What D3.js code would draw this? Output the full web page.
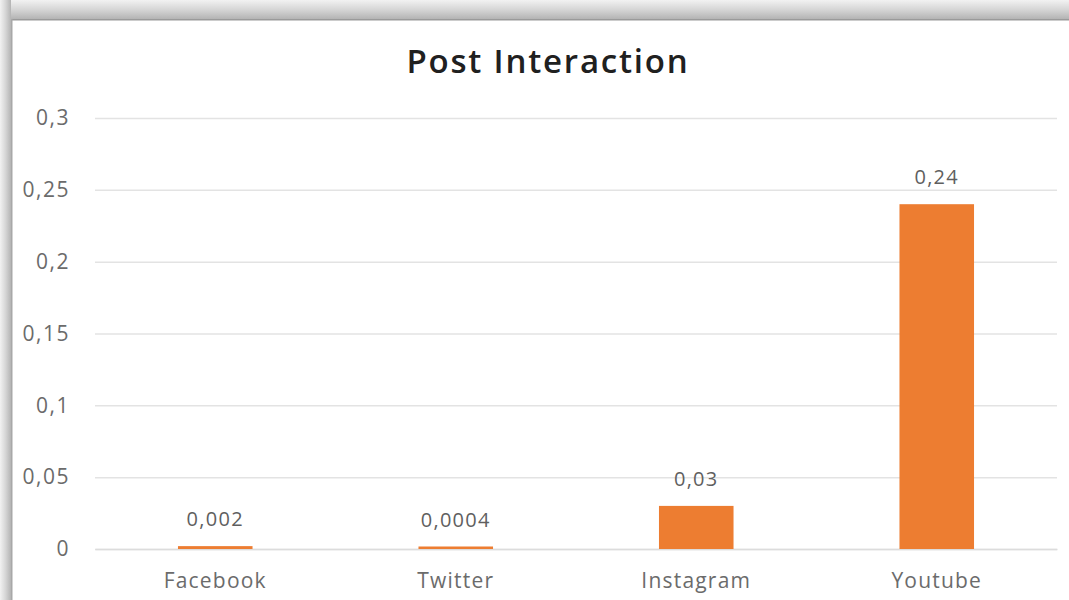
<!DOCTYPE html>
<html><head><meta charset="utf-8">
<script src="https://cdn.jsdelivr.net/npm/d3@7"></script>
<style>
html,body{margin:0;padding:0;background:#fff;}
svg{display:block;}
text{font-family:"Open Sans","Noto Sans",sans-serif;}
</style></head>
<body>
<svg id="c" width="1069" height="600"></svg>
<script>
const categories = ["Facebook","Twitter","Instagram","Youtube"];
const values = [0.002,0.0004,0.03,0.24];
const valueLabels = ["0,002","0,0004","0,03","0,24"];
const yTicks = [0,0.05,0.1,0.15,0.2,0.25,0.3];
const yTickLabels = ["0","0,05","0,1","0,15","0,2","0,25","0,3"];
const title = "Post Interaction";

const svg = d3.select("#c");
const W = 1069, H = 600;

// frame (shadowed border at top and left)
const defs = svg.append("defs");
const gT = defs.append("linearGradient").attr("id","gt").attr("x1",0).attr("y1",0).attr("x2",0).attr("y2",1);
gT.append("stop").attr("offset","0").attr("stop-color","#f2f2f2");
gT.append("stop").attr("offset","0.5").attr("stop-color","#d6d6d6");
gT.append("stop").attr("offset","1").attr("stop-color","#b4b4b4");
const gL = defs.append("linearGradient").attr("id","gl").attr("x1",0).attr("y1",0).attr("x2",1).attr("y2",0);
gL.append("stop").attr("offset","0").attr("stop-color","#f2f2f2");
gL.append("stop").attr("offset","0.5").attr("stop-color","#d6d6d6");
gL.append("stop").attr("offset","1").attr("stop-color","#b4b4b4");
svg.append("rect").attr("x",0).attr("y",0).attr("width",W).attr("height",19).attr("fill","url(#gt)");
svg.append("rect").attr("x",0).attr("y",0).attr("width",11).attr("height",H).attr("fill","url(#gl)");
svg.append("rect").attr("x",11).attr("y",19).attr("width",W-11).attr("height",1.5).attr("fill","#9a9a9a");
svg.append("rect").attr("x",11).attr("y",19).attr("width",1.5).attr("height",H-19).attr("fill","#a8a8a8");

const m = {left:95, right:1057, top:118, bottom:549};
const x = d3.scaleBand().domain(categories).range([m.left,m.right]).paddingInner(0.69).paddingOuter(0.345);
const y = d3.scaleLinear().domain([0,0.3]).range([m.bottom,m.top]);

// gridlines
const yAxis = d3.axisLeft(y).tickValues(yTicks).tickSize(-(m.right-m.left)).tickPadding(25)
  .tickFormat((d,i)=>yTickLabels[i]);
const ga = svg.append("g").attr("transform",`translate(${m.left},0)`).call(yAxis);
ga.select(".domain").remove();
ga.selectAll(".tick line").attr("stroke","#e3e3e3").attr("stroke-width",1.5);
ga.selectAll(".tick text").attr("fill","#6b6b6b").attr("font-size",21).attr("letter-spacing",1.5);

// x axis labels
const xAxis = d3.axisBottom(x).tickSize(0).tickPadding(24);
const gx = svg.append("g").attr("transform",`translate(0,${m.bottom})`).call(xAxis);
gx.select(".domain").attr("stroke","#dcdcdc").attr("stroke-width",1.5);
gx.selectAll(".tick text").attr("fill","#6b6b6b").attr("font-size",21).attr("letter-spacing",1.2);

// bars
svg.selectAll(".bar").data(values).enter().append("rect")
  .attr("x",(d,i)=>x(categories[i]))
  .attr("width",x.bandwidth())
  .attr("y",d=>Math.min(y(d), y(0)-2.5))
  .attr("height",d=>Math.max(y(0)-y(d),2.5))
  .attr("fill","#ed7d31");

// value labels
svg.selectAll(".vl").data(values).enter().append("text")
  .attr("x",(d,i)=>x(categories[i])+x.bandwidth()/2)
  .attr("y",d=>Math.min(y(d), y(0)-2.5)-20)
  .attr("text-anchor","middle").attr("fill","#5f5f5f").attr("font-size",20).attr("letter-spacing",1.3)
  .text((d,i)=>valueLabels[i]);

// title
svg.append("text").attr("x",548).attr("y",73).attr("text-anchor","middle")
  .attr("font-size",33).attr("font-weight",600).attr("letter-spacing",1.8).attr("fill","#202020").text(title);
</script>
</body></html>
